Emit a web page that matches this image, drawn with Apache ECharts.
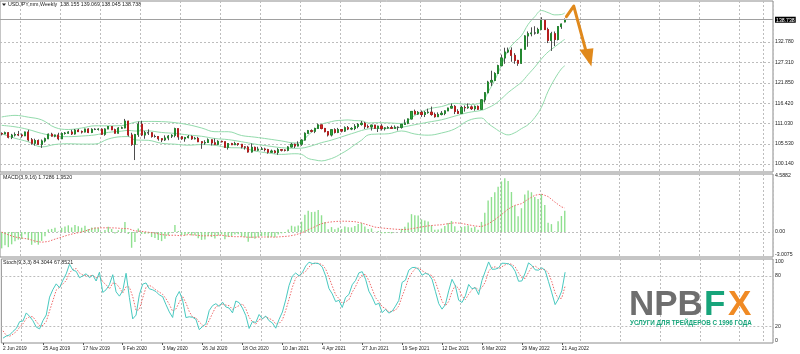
<!DOCTYPE html>
<html><head><meta charset="utf-8">
<script src="https://cdn.jsdelivr.net/npm/echarts@6/dist/echarts.min.js"></script>
<style>html,body{margin:0;padding:0;background:#fff}#c{width:800px;height:354px}</style>
</head><body><div id="c"></div>
<script>
// ---------- data ----------
const tickLabels = ['2 Jun 2019','25 Aug 2019','17 Nov 2019','9 Feb 2020','3 May 2020','26 Jul 2020','18 Oct 2020','10 Jan 2021','4 Apr 2021','27 Jun 2021','19 Sep 2021','12 Dec 2021','6 Mar 2022','29 May 2022','21 Aug 2022'];
const opens = [108.3,108.2,108.5,107.3,107.9,108.0,107.9,107.7,108.7,106.6,105.7,106.4,105.4,106.3,106.9,108.1,107.6,107.9,106.9,108.3,108.4,108.7,108.2,109.2,108.8,108.7,109.5,108.6,109.4,109.4,109.45,108.1,109.5,110.15,109.3,108.4,109.75,109.8,111.6,107.9,105.4,108.0,110.8,107.9,108.5,108.5,107.5,107.5,106.9,106.6,107.1,107.6,107.8,109.6,107.4,106.9,107.2,107.5,106.9,107.0,106.1,105.8,105.9,106.6,105.8,105.4,106.2,106.1,104.6,105.6,105.3,105.6,105.4,104.7,104.65,103.35,104.6,103.85,104.1,104.15,104.0,103.3,103.6,103.25,103.95,103.85,103.8,104.7,105.4,104.95,105.45,106.55,108.35,109.05,108.9,109.65,110.6,109.65,108.8,107.9,109.3,108.6,109.35,108.95,109.85,109.5,109.65,110.2,110.75,111.05,110.15,110.05,110.55,109.7,110.25,109.6,109.8,109.85,109.7,109.95,109.95,110.75,111.05,112.2,114.2,113.5,113.95,113.4,113.9,114.0,113.4,112.8,113.4,113.7,114.35,115.1,115.55,114.2,113.7,115.25,115.2,115.4,114.95,115.55,114.8,117.3,119.2,122.05,122.5,124.35,126.45,128.5,130.1,130.55,129.2,127.85,127.1,130.85,134.4,135.0,135.2,135.2,136.1,138.55,136.1,133.2,135.0,133.45,136.9,138.155];
const closes = [108.2,108.5,107.3,107.85,108.0,107.9,107.7,108.7,106.6,105.7,106.4,105.4,106.3,106.9,108.1,107.6,107.9,106.9,108.3,108.4,108.7,108.2,109.2,108.8,108.7,109.5,108.6,109.4,109.4,109.45,108.1,109.5,110.15,109.3,108.4,109.75,109.8,111.6,107.9,105.4,108.0,110.8,107.9,108.5,108.5,107.5,107.5,106.9,106.6,107.1,107.6,107.8,109.6,107.4,106.9,107.2,107.5,106.9,107.0,106.1,105.8,105.9,106.6,105.8,105.4,106.2,106.1,104.6,105.6,105.3,105.6,105.4,104.7,104.65,103.35,104.6,103.85,104.1,104.15,104.0,103.3,103.6,103.25,103.95,103.85,103.8,104.7,105.4,104.95,105.45,106.55,108.35,109.05,108.9,109.65,110.6,109.65,108.8,107.9,109.3,108.6,109.35,108.95,109.85,109.5,109.65,110.2,110.75,111.05,110.15,110.05,110.55,109.7,110.25,109.6,109.8,109.85,109.7,109.95,109.95,110.75,111.05,112.2,114.2,113.5,113.95,113.4,113.9,114.0,113.4,112.8,113.4,113.7,114.35,115.1,115.55,114.2,113.7,115.25,115.2,115.4,114.95,115.55,114.8,117.3,119.2,122.05,122.5,124.35,126.45,128.5,130.1,130.55,129.2,127.85,127.1,130.85,134.4,135.0,135.2,135.2,136.1,138.55,136.1,133.2,135.0,133.45,136.9,137.6,138.738];
const lows = [107.8,108.1,107.0,106.8,107.5,107.6,107.2,107.6,106.2,105.3,105.05,105.2,104.45,105.9,106.8,107.5,107.3,106.5,106.8,108.0,108.2,107.9,108.0,108.7,108.3,108.6,108.4,108.4,109.2,109.1,107.9,107.7,109.5,109.2,108.3,108.3,109.6,109.7,107.5,105.0,101.2,107.4,107.6,106.9,107.9,107.2,107.2,106.4,106.0,106.3,106.5,107.1,107.3,106.6,106.6,106.1,107.0,106.6,106.7,106.0,104.2,105.3,105.8,105.1,105.2,105.2,105.9,104.5,104.0,105.2,105.2,105.0,104.3,104.0,103.2,103.2,103.7,103.7,103.9,103.5,102.9,103.2,102.95,102.6,103.5,103.5,103.55,104.6,104.4,104.9,105.0,106.4,108.35,108.6,108.4,109.6,109.4,108.6,107.5,107.5,108.3,108.4,108.6,108.7,109.2,109.2,109.2,109.7,110.4,109.5,109.7,109.1,109.5,108.7,109.1,109.1,109.6,109.6,109.6,109.1,109.6,110.6,110.8,112.1,113.4,113.3,112.75,112.7,113.6,113.05,112.55,112.8,113.15,113.2,114.3,115.0,113.5,113.5,113.5,114.15,114.9,114.6,114.4,114.6,114.7,116.6,119.1,121.0,122.4,124.3,126.3,126.95,129.8,127.5,126.95,126.4,126.9,130.8,131.5,134.3,134.75,134.95,136.1,136.0,132.5,130.4,131.7,133.2,136.3,138.045];
const highs = [108.6,108.8,108.7,108.2,108.6,108.99,108.3,108.8,109.3,107.1,106.9,106.7,106.7,107.2,108.3,108.5,108.0,108.5,108.6,108.7,108.9,109.3,109.5,109.5,109.1,109.6,109.7,109.7,109.7,109.7,109.7,109.7,110.3,110.2,109.6,110.0,110.15,112.2,111.7,108.5,108.2,111.5,111.7,109.0,109.4,108.6,108.0,107.6,107.0,107.8,107.9,108.1,109.85,109.6,107.6,107.4,107.9,107.8,107.4,107.4,106.2,106.5,107.0,106.7,106.95,106.5,106.4,106.1,105.7,105.8,106.1,105.6,105.5,104.9,105.0,105.65,104.8,104.75,104.7,104.5,104.2,104.0,103.9,104.4,104.1,104.05,104.9,105.8,105.6,106.2,106.7,108.6,109.25,109.4,109.85,110.97,110.6,109.8,108.9,109.4,109.7,109.8,109.4,110.2,110.3,110.0,110.8,111.1,111.65,111.4,110.7,110.6,110.6,110.4,110.8,110.0,110.25,110.4,110.45,110.2,110.8,112.05,112.3,114.3,114.7,114.3,114.45,114.3,114.95,115.5,113.9,113.95,114.3,114.5,115.2,116.35,115.9,114.8,115.7,115.8,116.35,115.8,115.8,115.8,117.4,119.4,122.4,125.1,124.7,126.7,129.4,131.25,131.3,131.35,129.8,128.0,130.9,134.6,135.6,136.7,137.0,136.6,139.4,138.9,136.6,135.5,135.6,137.0,137.7,139.069];

const bbIdx   = [0,4,8,12,16,20,24,28,32,36,38,40,42,44,48,52,56,60,64,68,72,76,80,84,88,90,92,94,96,98,100,102,104,106,108,110,112,116,120,124,128,132,136,140,144,146,148,150,152,154,156,158,160,162,164,166,168,169];
const bbMid   = [110.48,110.09,109.37,108.33,107.64,107.46,107.62,107.92,108.59,108.93,109.14,108.96,109.02,109.00,108.58,108.32,107.91,107.56,106.96,106.66,106.10,105.47,104.96,104.51,104.33,104.38,104.75,105.27,105.86,106.29,106.82,107.39,107.97,108.53,109.10,109.52,109.66,109.69,109.98,110.65,111.33,111.97,112.95,113.91,114.50,115.19,116.14,117.58,119.25,120.63,122.04,124.07,126.06,128.26,130.12,131.48,132.87,133.48];
const bbUpper = [112.72,113.15,112.67,111.95,109.92,109.37,109.77,110.36,110.35,110.41,110.80,111.32,111.52,111.53,111.48,111.20,110.65,109.78,108.78,108.78,107.76,107.33,106.84,106.31,105.77,106.06,107.87,109.31,110.76,111.25,111.68,111.83,111.93,111.75,111.70,111.12,111.20,111.15,110.98,113.13,114.81,115.51,116.37,116.07,116.56,119.41,122.56,126.58,130.57,132.75,134.48,137.47,139.56,141.20,140.64,140.04,140.13,140.55];
const bbLower = [108.24,107.03,106.07,104.71,105.36,105.55,105.47,105.48,106.83,107.45,107.48,106.60,106.52,106.47,105.68,105.44,105.17,105.34,105.14,104.54,104.44,103.61,103.08,102.71,102.89,102.70,101.63,101.23,100.96,101.33,101.96,102.95,104.01,105.31,106.50,107.92,108.12,108.23,108.98,108.17,107.85,108.43,109.53,111.75,112.44,110.97,109.72,108.58,107.93,108.51,109.60,110.67,112.56,115.32,119.60,122.92,125.61,126.42];

const macdHist = [-1.33,-1.07,-1.23,-1.0,-0.76,-0.62,-0.56,-0.18,-0.64,-1.04,
-0.88,-1.03,-0.72,-0.34,0.21,0.25,0.34,0.04,0.34,0.45,
0.54,0.37,0.57,0.47,0.35,0.51,0.25,0.36,0.37,0.35,
-0.1,0.16,0.43,0.25,-0.13,0.14,0.25,0.82,-0.16,-1.28,
-0.82,0.29,-0.16,-0.16,-0.13,-0.41,-0.48,-0.64,-0.74,-0.55,
-0.26,-0.06,0.56,0.09,-0.25,-0.28,-0.17,-0.28,-0.27,-0.51,
-0.64,-0.6,-0.32,-0.41,-0.53,-0.28,-0.19,-0.58,-0.38,-0.35,
-0.21,-0.19,-0.38,-0.43,-0.8,-0.49,-0.54,-0.43,-0.33,-0.31,
-0.47,-0.4,-0.43,-0.2,-0.11,-0.08,0.2,0.51,0.45,0.53,
0.84,1.41,1.72,1.62,1.64,1.78,1.36,0.81,0.23,0.4,
0.22,0.35,0.24,0.45,0.38,0.37,0.49,0.65,0.74,0.44,
0.24,0.29,0.03,0.08,-0.11,-0.1,-0.08,-0.11,-0.03,0.0,
0.26,0.42,0.78,1.45,1.36,1.33,1.02,0.94,0.85,0.54,
0.19,0.21,0.28,0.48,0.73,0.9,0.47,0.1,0.4,0.47,
0.52,0.34,0.42,0.18,0.82,1.56,2.56,2.84,3.22,3.68,
4.11,4.36,4.15,3.25,2.15,1.28,1.93,3.05,3.38,3.23,
2.85,2.68,3.08,2.2,0.75,0.64,0.06,0.87,1.3,1.7286];
const macdSigIdx = [0,2,4,6,8,10,12,14,16,18,20,22,24,26,28,30,32,34,36,38,40,42,44,46,48,50,52,54,56,58,60,62,64,66,68,70,72,74,76,78,80,82,84,86,88,90,92,94,96,98,100,102,104,106,108,110,112,114,116,118,120,122,124,126,128,130,132,134,136,138,140,142,144,146,148,150,152,154,156,158,160,162,164,166,168,169];
const macdSig = [-0.01,-0.23,-0.41,-0.49,-0.57,-0.74,-0.83,-0.77,-0.58,-0.41,
-0.24,-0.11,0.0,0.16,0.32,0.34,0.34,0.33,0.29,0.27,
0.09,0.05,-0.02,-0.09,-0.21,-0.27,-0.26,-0.31,-0.21,-0.25,
-0.31,-0.31,-0.28,-0.26,-0.35,-0.38,-0.38,-0.43,-0.42,-0.41,
-0.40,-0.42,-0.38,-0.34,-0.24,-0.08,0.18,0.43,0.68,0.79,
0.85,0.88,0.87,0.84,0.73,0.57,0.40,0.33,0.28,0.23,
0.20,0.22,0.31,0.41,0.50,0.55,0.59,0.68,0.75,0.70,
0.59,0.49,0.44,0.65,1.00,1.41,1.86,2.16,2.30,2.66,
2.98,3.08,2.88,2.44,2.04,1.952];

const stochMain = [5.8,8.3,9.6,13.8,17.3,25.4,26.2,35.8,31.7,26.5,
18.9,16.8,26.6,33.3,54.6,63.6,70.4,65.8,74.7,82.3,
93.8,86.8,85.3,77.7,80.0,82.4,77.8,80.8,73.8,84.3,
60.2,63.4,69.5,81.3,60.9,55.8,62.2,83.0,54.2,28.7,
33.2,57.5,70.0,71.5,64.5,63.3,61.2,57.2,55.2,45.7,
37.0,30.4,54.1,61.3,51.1,30.3,31.2,30.6,28.2,15.9,
19.6,22.8,38.6,44.5,46.8,43.6,48.6,43.0,41.5,35.9,
50.0,48.0,41.6,32.7,17.3,25.6,24.4,33.9,28.7,32.1,
26.5,23.9,17.6,28.1,36.9,51.4,68.4,79.7,83.3,80.0,
83.9,91.6,96.2,94.6,95.0,94.3,90.3,79.9,64.8,58.4,
49.3,50.8,42.3,54.3,57.8,69.4,74.5,83.5,84.9,76.0,
61.7,54.6,45.6,47.3,36.1,40.1,35.6,37.8,43.9,50.7,
72.2,74.8,86.7,89.8,90.0,87.5,80.7,83.0,81.6,75.7,
61.5,46.9,40.3,45.7,62.1,75.8,68.2,50.9,48.2,56.1,
69.7,64.6,65.8,57.6,74.5,85.4,96.5,87.8,87.9,89.4,
95.0,94.8,94.2,91.6,85.3,73.5,73.9,83.3,95.4,92.3,
87.1,86.7,89.6,86.2,73.1,59.7,45.7,52.4,62.0,84.3044];
const stochSig = [14.5,9.0,7.9,10.6,13.6,18.8,23.0,29.1,31.2,31.3,
25.7,20.7,20.8,25.6,38.2,50.5,62.9,66.6,70.3,74.3,
83.6,87.6,88.6,83.3,81.0,80.0,80.1,80.3,77.5,79.6,
72.8,69.3,64.4,71.4,70.6,66.0,59.6,67.0,66.5,55.3,
38.7,39.8,53.6,66.3,68.7,66.4,63.0,60.6,57.9,52.7,
46.0,37.7,40.5,48.6,55.5,47.6,37.5,30.7,30.0,24.9,
21.2,19.4,27.0,35.3,43.3,45.0,46.3,45.1,44.4,40.1,
42.5,44.6,46.5,40.8,30.5,25.2,22.4,28.0,29.0,31.6,
29.1,27.5,22.7,23.2,27.5,38.8,52.2,66.5,77.1,81.0,
82.4,85.2,90.6,94.1,95.3,94.6,93.2,88.2,78.3,67.7,
57.5,52.8,47.5,49.1,51.5,60.5,67.2,75.8,81.0,81.5,
74.2,64.1,54.0,49.2,43.0,41.2,37.3,37.8,39.1,44.1,
55.6,65.9,77.9,83.8,88.8,89.1,86.1,83.7,81.8,80.1,
72.9,61.4,49.6,44.3,49.4,61.2,68.7,65.0,55.8,51.7,
58.0,63.5,66.7,62.7,66.0,72.5,85.5,89.9,90.7,88.4,
90.8,93.1,94.7,93.5,90.4,83.5,77.6,76.9,84.2,90.3,
91.6,88.7,87.8,87.5,83.0,73.0,59.5,52.6,53.4,67.8521];

const priceTicks = [100.14,105.53,111.03,116.42,121.85,127.31,132.78];
const lastPrice = 138.738;
const macdLabels = ['4.5882','0.00','-3.0075'];
const stochLabels = ['100','80','20','0'];
const arrowShaft = [[169.5,139.55],[171.7,142.4],[175.6,129.6]];
const arrowHead  = [[173.4,130.7],[177.6,131.1],[177.0,126.2]];

// ---------- categories (weekly bars from 2 Jun 2019, incl. empty future slots) ----------
const MON = ['Jan','Feb','Mar','Apr','May','Jun','Jul','Aug','Sep','Oct','Nov','Dec'];
const categories = [];
for (let i = 0; i < 232; i++) {
  const d = new Date(Date.UTC(2019, 5, 2 + 7 * i));
  categories.push(d.getUTCDate() + ' ' + MON[d.getUTCMonth()] + ' ' + d.getUTCFullYear());
}

// ---------- chart ----------
const FONT = '"Liberation Sans", Arial, sans-serif';
const BULL = '#2e9e3e', BEAR = '#d02828';
const dotted = {show: true, lineStyle: {color: '#bdbdbd', type: [2, 2], width: 1}};
const vSplit = (i) => i % 12 === 6 || i === 229;
const labInt = (i) => i % 12 === 0 && i <= 168;
const pair = (xs, ys) => xs.map((x, k) => [x, ys[k]]);

function catAxis(g, showLab) {
  return {
    type: 'category', gridIndex: g, data: categories, boundaryGap: true,
    axisLine: {show: false},
    axisTick: {show: showLab, interval: labInt, alignWithLabel: true, length: 2, lineStyle: {color: '#555'}},
    axisLabel: {show: showLab, interval: labInt, align: 'left', margin: 3, fontSize: 4.8, color: '#222', fontFamily: FONT,
      formatter: (v, i) => tickLabels[Math.round(i / 12)] || ''},
    splitLine: {show: true, interval: vSplit, lineStyle: {color: '#bdbdbd', type: [2, 2], width: 1}}
  };
}
function valX(g) { return {type: 'value', gridIndex: g, min: -0.5, max: 231.5, show: false}; }
const gridBase = {left: 0, width: 773, show: true, borderColor: '#8c8c8c', borderWidth: 1, containLabel: false};
const lblStyle = {fontSize: 5.2, color: '#222', fontFamily: FONT, margin: 2};

const option = {
  animation: false,
  backgroundColor: '#ffffff',
  grid: [
    Object.assign({top: 1, height: 171}, gridBase),
    Object.assign({top: 174, height: 83}, gridBase),
    Object.assign({top: 259, height: 84}, gridBase)
  ],
  xAxis: [catAxis(0, false), catAxis(1, false), catAxis(2, true), valX(0), valX(1), valX(2)],
  yAxis: [
    {type: 'value', gridIndex: 0, position: 'right', min: 98.0, max: 143.75,
      axisLine: {show: false}, axisTick: {show: false, customValues: priceTicks},
      axisLabel: Object.assign({customValues: priceTicks.concat([lastPrice]),
        formatter: (v) => Math.abs(v - lastPrice) < 1e-6 ? '{c|' + lastPrice.toFixed(3) + '}' : v.toFixed(3),
        rich: {c: {color: '#fff', backgroundColor: '#000', padding: [1, 1, 0, 1], fontSize: 5.2, fontFamily: FONT}}}, lblStyle),
      splitLine: dotted},
    {type: 'value', gridIndex: 1, position: 'right', min: -2.03, max: 4.71,
      axisLine: {show: false}, axisTick: {show: false, customValues: [0]},
      axisLabel: Object.assign({customValues: [4.5882, 0, -1.83],
        formatter: (v) => v > 1 ? macdLabels[0] : (v < -1 ? macdLabels[2] : macdLabels[1])}, lblStyle),
      splitLine: dotted},
    {type: 'value', gridIndex: 2, position: 'right', min: 0, max: 100,
      axisLine: {show: false}, axisTick: {show: false, customValues: [20, 80]},
      axisLabel: Object.assign({customValues: [96.8, 80, 20, 2.4],
        formatter: (v) => v > 90 ? stochLabels[0] : v > 50 ? stochLabels[1] : v > 10 ? stochLabels[2] : stochLabels[3]}, lblStyle),
      splitLine: dotted}
  ],
  series: [
    {name: 'bbU', type: 'line', xAxisIndex: 3, yAxisIndex: 0, data: pair(bbIdx, bbUpper), symbol: 'none', smooth: 0.4,
      lineStyle: {color: '#93dbac', width: 1}, silent: true, z: 2},
    {name: 'bbM', type: 'line', xAxisIndex: 3, yAxisIndex: 0, data: pair(bbIdx, bbMid), symbol: 'none', smooth: 0.4,
      lineStyle: {color: '#93dbac', width: 1}, silent: true, z: 2},
    {name: 'bbL', type: 'line', xAxisIndex: 3, yAxisIndex: 0, data: pair(bbIdx, bbLower), symbol: 'none', smooth: 0.4,
      lineStyle: {color: '#93dbac', width: 1}, silent: true, z: 2},
    {name: 'wick', type: 'candlestick', xAxisIndex: 0, yAxisIndex: 0, barWidth: 1.6, z: 3,
      data: opens.map((o, i) => [o, closes[i], lows[i], highs[i]]),
      itemStyle: {color: BULL, color0: BEAR, borderColor: '#4d4d4d', borderColor0: '#4d4d4d', borderColorDoji: '#4d4d4d', borderWidth: 1},
      markLine: {silent: true, symbol: ['none', 'none'], label: {show: false}, animation: false,
        lineStyle: {color: '#a0a0a0', type: 'solid', width: 1}, data: [{yAxis: lastPrice}]}},
    {name: 'body', type: 'candlestick', xAxisIndex: 0, yAxisIndex: 0, barWidth: 1.6, z: 4,
      data: opens.map((o, i) => [o, closes[i], Math.min(o, closes[i]), Math.max(o, closes[i])]),
      itemStyle: {color: BULL, color0: BEAR, borderColor: '#23882f', borderColor0: '#b51d1d', borderColorDoji: '#4d4d4d', borderWidth: 1}},
    {name: 'arrow', type: 'line', xAxisIndex: 3, yAxisIndex: 0, data: arrowShaft, symbol: 'none', clip: false,
      lineStyle: {color: '#e0891c', width: 3, cap: 'round', join: 'round'}, silent: true, z: 8},
    {name: 'arrowHead', type: 'custom', xAxisIndex: 3, yAxisIndex: 0, data: [arrowHead[2]], clip: false, silent: true, z: 9,
      renderItem: (p, api) => ({type: 'polygon', shape: {points: arrowHead.map(pt => api.coord(pt))}, style: {fill: '#e0891c'}})},
    {name: 'macd', type: 'bar', xAxisIndex: 1, yAxisIndex: 1, data: macdHist, barWidth: 1.4,
      itemStyle: {color: '#8fe08f'}, silent: true},
    {name: 'macdSig', type: 'line', xAxisIndex: 4, yAxisIndex: 1, data: pair(macdSigIdx, macdSig), symbol: 'none',
      lineStyle: {color: '#ef6a6a', width: 1, type: [1.5, 1.5]}, silent: true},
    {name: 'stoch', type: 'line', xAxisIndex: 2, yAxisIndex: 2, data: stochMain, symbol: 'none',
      lineStyle: {color: '#48c9c0', width: 1}, silent: true, z: 3},
    {name: 'stochSig', type: 'line', xAxisIndex: 2, yAxisIndex: 2, data: stochSig, symbol: 'none',
      lineStyle: {color: '#ef6a6a', width: 1, type: [1.5, 1.5]}, silent: true, z: 2}
  ],
  graphic: [
    {type: 'polygon', shape: {points: [[2, 3.5], [6, 3.5], [4, 6]]}, style: {fill: '#222'}, silent: true},
    {type: 'text', x: 8, y: 5, style: {text: 'USDJPY,mm,Weekly  138.155 139.069 138.045 138.738', fontSize: 5.3, fontFamily: FONT, fill: '#222', verticalAlign: 'middle'}, silent: true},
    {type: 'text', x: 3, y: 177.5, style: {text: 'MACD(3,9,16) 1.7286 1.9520', fontSize: 5.3, fontFamily: FONT, fill: '#222', verticalAlign: 'middle'}, silent: true},
    {type: 'text', x: 3, y: 263, style: {text: 'Stoch(9,3,3) 84.3044 67.8521', fontSize: 5.3, fontFamily: FONT, fill: '#222', verticalAlign: 'middle'}, silent: true},
    {type: 'text', x: 629, y: 305, z: 100, style: {text: 'NPB', fontSize: 35, fontWeight: 'bold', fontFamily: FONT, fill: '#6e6e6e', verticalAlign: 'middle'}, silent: true},
    {type: 'text', x: 704, y: 305, z: 100, style: {text: 'F', fontSize: 35, fontWeight: 'bold', fontFamily: FONT, fill: '#17a47a', verticalAlign: 'middle'}, silent: true},
    {type: 'text', x: 728, y: 305, z: 100, style: {text: 'X', fontSize: 35, fontWeight: 'bold', fontFamily: FONT, fill: '#f08a24', verticalAlign: 'middle'}, silent: true},
    {type: 'text', x: 630, y: 323.5, z: 100, style: {text: 'УСЛУГИ ДЛЯ ТРЕЙДЕРОВ С 1996 ГОДА', fontSize: 6.3, fontWeight: 'bold', fontFamily: FONT, fill: '#17a47a', verticalAlign: 'middle'}, silent: true}
  ]
};
const chart = echarts.init(document.getElementById('c'), null, {renderer: 'canvas'});
chart.setOption(option);
</script>
</body></html>
